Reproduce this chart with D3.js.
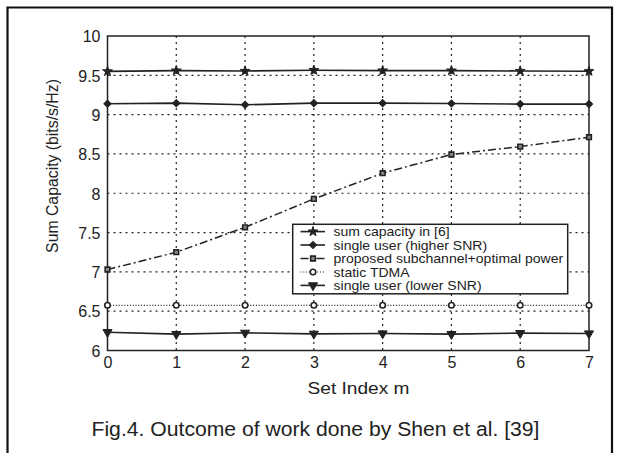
<!DOCTYPE html>
<html>
<head>
<meta charset="utf-8">
<script src="https://cdn.jsdelivr.net/npm/d3@7"></script>
<style>
  html, body { margin: 0; padding: 0; background: #fff; }
  svg { display: block; }
  text { font-family: "Liberation Sans", Arial, Helvetica, sans-serif; fill: #222; }
</style>
</head>
<body>
<script>
// ---- data ----
const setIndex = [0, 1, 2, 3, 4, 5, 6, 7];
const sumCapacity6 = [9.55, 9.56, 9.555, 9.565, 9.56, 9.56, 9.555, 9.552];
const singleHigher = [9.138, 9.146, 9.125, 9.146, 9.146, 9.142, 9.134, 9.134];
const proposed = [7.03, 7.25, 7.567, 7.928, 8.255, 8.493, 8.594, 8.713];
const staticTDMA = [6.575, 6.575, 6.575, 6.575, 6.575, 6.575, 6.575, 6.575];
const singleLower = [6.233, 6.208, 6.225, 6.212, 6.216, 6.208, 6.221, 6.216];
const yTicks = [6, 6.5, 7, 7.5, 8, 8.5, 9, 9.5, 10];
const xTicks = [0, 1, 2, 3, 4, 5, 6, 7];
const seriesNames = [
  "sum capacity in [6]",
  "single user (higher SNR)",
  "proposed subchannel+optimal power",
  "static TDMA",
  "single user (lower SNR)"
];

const W = 620, H = 453;
const m = { left: 107.5, right: 589, top: 36, bottom: 350.5 };
const ink = "#222";
const FONT = "'Liberation Sans', Arial, Helvetica, sans-serif";

const svg = d3.select("body").append("svg").attr("width", W).attr("height", H);

// outer figure frame (no bottom edge)
svg.append("path")
  .attr("d", `M7.5,${H} L7.5,7.5 L612,7.5 L612,${H}`)
  .attr("fill", "none").attr("stroke", "#111").attr("stroke-width", 2.2);

const x = d3.scaleLinear().domain([0, 7]).range([m.left, m.right]);
const y = d3.scaleLinear().domain([6, 10]).range([m.bottom, m.top]);

// grid
const grid = svg.append("g");
grid.selectAll("line.h").data(yTicks.filter(t => t > 6 && t < 10)).join("line")
  .attr("x1", m.left).attr("x2", m.right)
  .attr("y1", d => y(d)).attr("y2", d => y(d))
  .attr("stroke", ink).attr("stroke-width", 1.2).attr("stroke-dasharray", "2,4");
grid.selectAll("line.v").data(xTicks.filter(t => t > 0 && t < 7)).join("line")
  .attr("y1", m.top).attr("y2", m.bottom)
  .attr("x1", d => x(d)).attr("x2", d => x(d))
  .attr("stroke", ink).attr("stroke-width", 1.2).attr("stroke-dasharray", "2,4");

// axes
const yAxis = d3.axisLeft(y).tickValues(yTicks).tickSize(0).tickPadding(7).tickFormat(d3.format("~g"));
const xAxis = d3.axisBottom(x).tickValues(xTicks).tickSize(0).tickPadding(6).tickFormat(d3.format("d"));
const gy = svg.append("g").attr("transform", `translate(${m.left},0)`).call(yAxis);
const gx = svg.append("g").attr("transform", `translate(0,${m.bottom})`).call(xAxis);
[gy, gx].forEach(g => {
  g.select(".domain").remove();
  g.attr("font-family", null).attr("font-size", null);
  g.selectAll("text").attr("font-size", 16).attr("fill", "#333").style("font-family", FONT);
});
gy.selectAll(".tick text").attr("dy", "0.36em");

// plot box
svg.append("rect").attr("x", m.left).attr("y", m.top)
  .attr("width", m.right - m.left).attr("height", m.bottom - m.top)
  .attr("fill", "none").attr("stroke", ink).attr("stroke-width", 1.5);

// series
const sym = {
  star: d3.symbol().type(d3.symbolStar).size(30),
  diamond: d3.symbol().type(d3.symbolSquare).size(26),
  square: d3.symbol().type(d3.symbolSquare).size(22),
  circle: d3.symbol().type(d3.symbolCircle).size(24),
  tri: d3.symbol().type(d3.symbolTriangle).size(36)
};
const series = [
  { name: seriesNames[0], vals: sumCapacity6, dash: null, w: 1.6, marker: "star", fill: ink },
  { name: seriesNames[1], vals: singleHigher, dash: null, w: 1.6, marker: "diamond", fill: ink },
  { name: seriesNames[2], vals: proposed, dash: "8,3,2,3", w: 1.5, marker: "square", fill: "#888" },
  { name: seriesNames[3], vals: staticTDMA, dash: "1,1.8", w: 1.2, marker: "circle", fill: "#fff" },
  { name: seriesNames[4], vals: singleLower, dash: null, w: 1.6, marker: "tri", fill: ink }
];
const line = d3.line().x((d, i) => x(setIndex[i])).y(d => y(d));

function drawMarker(g, s, cx, cy) {
  const p = g.append("path").attr("d", sym[s.marker]())
    .attr("fill", s.fill).attr("stroke", ink)
    .attr("stroke-width", s.marker === "circle" || s.marker === "square" ? 1.6 : 1);
  let t = `translate(${cx},${cy})`;
  if (s.marker === "tri") t += " rotate(180)";
  if (s.marker === "diamond") t += " rotate(45)";
  p.attr("transform", t);
}

const gs = svg.append("g");
series.forEach(s => {
  gs.append("path").datum(s.vals).attr("d", line)
    .attr("fill", "none").attr("stroke", ink).attr("stroke-width", s.w)
    .attr("stroke-dasharray", s.dash);
  s.vals.forEach((v, i) => drawMarker(gs, s, x(setIndex[i]), y(v)));
});

// legend
const lg = svg.append("g");
lg.append("rect").attr("x", 292.7).attr("y", 224.3).attr("width", 275).attr("height", 69.5)
  .attr("fill", "#fff").attr("stroke", ink).attr("stroke-width", 1.5);
const rowY = [231.6, 245, 258.5, 272, 285.4];
series.forEach((s, i) => {
  lg.append("line").attr("x1", 300.5).attr("x2", 325).attr("y1", rowY[i]).attr("y2", rowY[i])
    .attr("stroke", ink).attr("stroke-width", s.w).attr("stroke-dasharray", s.dash);
  drawMarker(lg, s, 313, rowY[i]);
  lg.append("text").attr("transform", `translate(333.5,${rowY[i]}) scale(1.08,1)`)
    .attr("dy", "0.35em").attr("font-size", 13).attr("fill", "#333").text(s.name);
});

// axis titles
svg.append("text").attr("transform", `translate(52,166) rotate(-90)`)
  .attr("text-anchor", "middle").attr("dy", "0.35em").attr("font-size", 15.8).attr("fill", "#333")
  .text("Sum Capacity (bits/s/Hz)");
svg.append("text").attr("x", 307.5).attr("y", 394).attr("fill", "#333")
  .attr("font-size", 16).attr("textLength", 102).attr("lengthAdjust", "spacingAndGlyphs")
  .text("Set Index m");

// caption
svg.append("text").attr("x", 91.5).attr("y", 436).attr("fill", "#111")
  .attr("font-size", 19.5).attr("textLength", 448).attr("lengthAdjust", "spacingAndGlyphs")
  .text("Fig.4. Outcome of work done by Shen et al. [39]");
</script>
</body>
</html>
